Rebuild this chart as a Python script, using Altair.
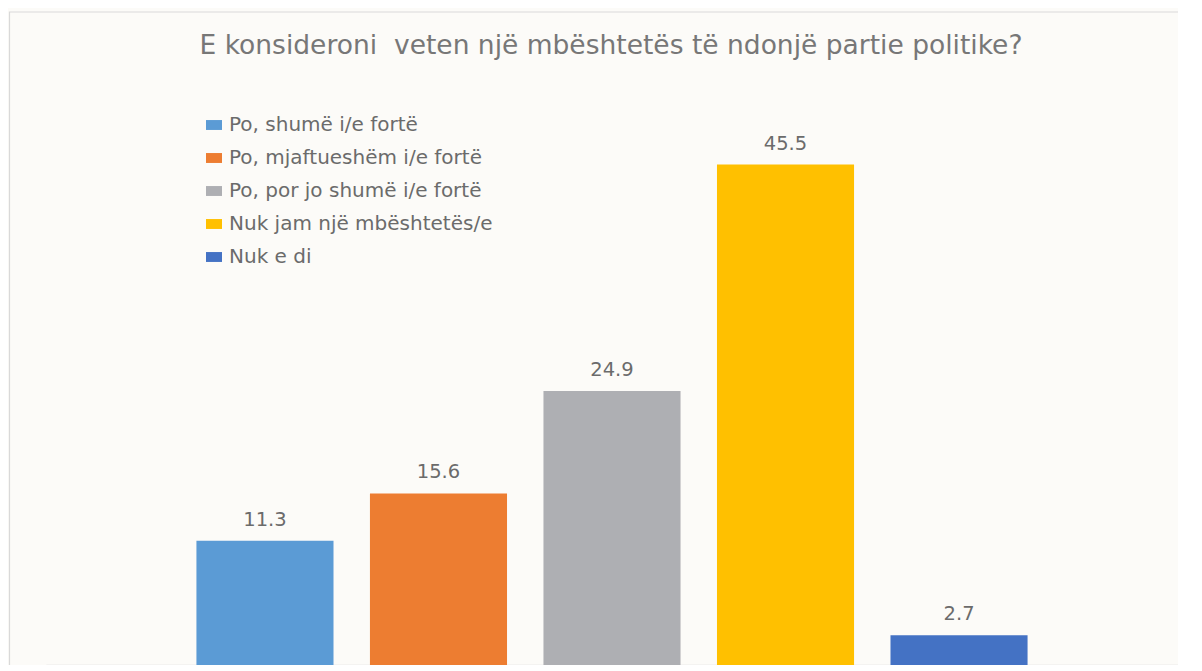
import altair as alt
import pandas as pd

categories = ["Po, shumë i/e fortë", "Po, mjaftueshëm i/e fortë", "Po, por jo shumë i/e fortë",
              "Nuk jam një mbështetës/e", "Nuk e di"]
values = [11.3, 15.6, 24.9, 45.5, 2.7]
colors = ["#5b9bd5", "#ed7d31", "#aeafb3", "#ffc000", "#4472c4"]
title = "E konsideroni\u00a0 veten një mbështetës të ndonjë partie politike?"

df = pd.DataFrame({"cat": categories, "val": values})
df["lab"] = df["val"].map(lambda v: f"{v:.1f}")

FONT = "DejaVu Sans"
W, H = 1132, 550

x = alt.X("cat:N", sort=categories,
          scale=alt.Scale(paddingInner=0.21, paddingOuter=0.867),
          axis=alt.Axis(labels=False, ticks=False, title=None, domainColor="#d9d9d9",
                        domainWidth=1.5, grid=False))
y = alt.Y("val:Q", scale=alt.Scale(domain=[0, 50], nice=False), axis=None)

one = pd.DataFrame({"t": [title]})

border = alt.Chart(one).mark_rect(
    fill=None, stroke="#d9d9d9", strokeWidth=1.2
).encode(x=alt.value(-36.5), x2=alt.value(1300), y=alt.value(-103), y2=alt.value(700))

title_mark = alt.Chart(one).mark_text(
    font=FONT, fontSize=26.5, color="#777777", baseline="middle", align="center"
).encode(x=alt.value(W / 2 - 1), y=alt.value(-69), text="t:N")

bars = alt.Chart(df).mark_bar().encode(
    x=x, y=y,
    color=alt.Color("cat:N", sort=categories,
                    scale=alt.Scale(domain=categories, range=colors),
                    legend=alt.Legend(title=None, orient="none", legendX=158, legendY=0,
                                      symbolType="M-1,-0.62H1V0.62H-1Z", symbolSize=256,
                                      symbolStrokeWidth=0, labelFont=FONT, labelFontSize=20,
                                      labelColor="#6b6b6b", rowPadding=13, symbolOffset=0,
                                      labelOffset=5, labelLimit=500)),
)

labels = alt.Chart(df).mark_text(
    baseline="bottom", dy=-11, font=FONT, fontSize=19.5, color="#6b6b6b"
).encode(x=alt.X("cat:N", sort=categories), y=y, text="lab:N")

chart = alt.layer(border, title_mark, bars, labels).properties(
    width=W, height=H,
    padding={"left": 38, "top": 107, "right": 0, "bottom": 0},
    autosize=alt.AutoSizeParams(type="none"),
    background="#fcfbf8",
).configure_view(stroke=None)

chart.save("out.html", embed_options={"renderer": "svg", "actions": False})
